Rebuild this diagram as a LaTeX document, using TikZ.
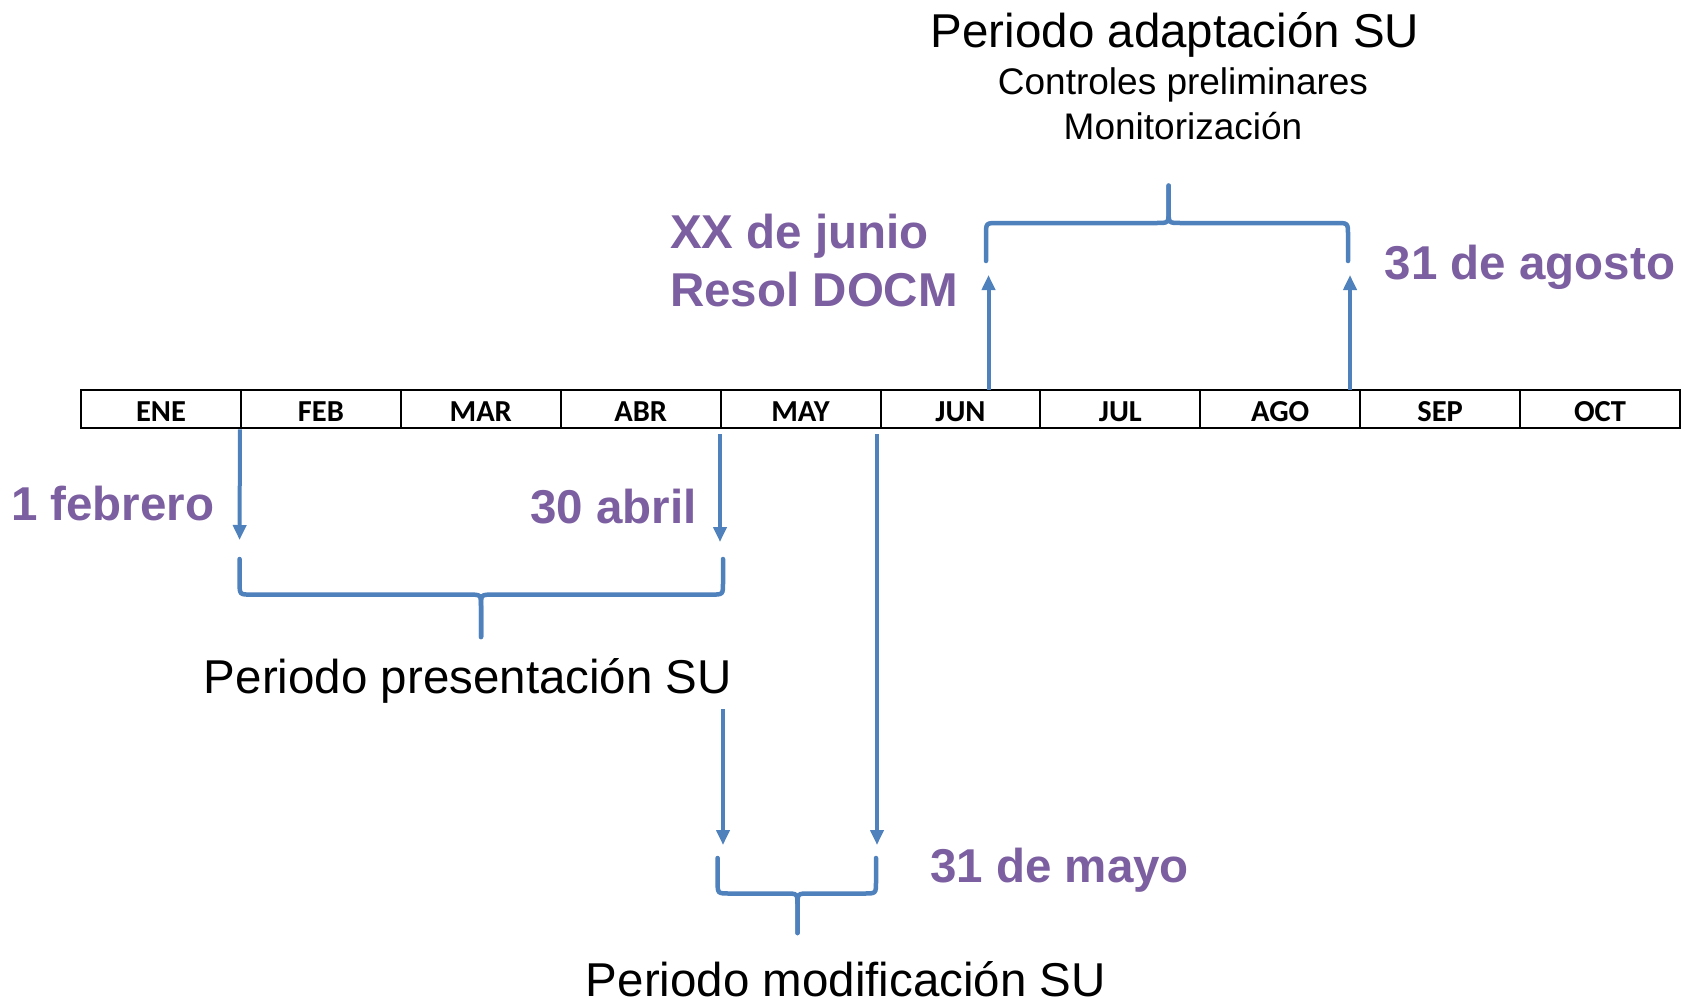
\documentclass[tikz,border=0pt]{standalone}
\usepackage{fontspec}
\setmainfont{Liberation Sans}
\newfontfamily\calib{Carlito}
\usetikzlibrary{arrows.meta}
\definecolor{lblue}{HTML}{4F81BD}
\definecolor{lpurple}{HTML}{7C5FA0}
\tikzset{
  month/.style={draw=black, line width=2pt, minimum width=159.9pt, minimum height=38.9pt,
    inner sep=0pt, text height=25pt, text depth=0pt,
    font=\calib\bfseries\fontsize{30.5}{32}\selectfont},
  arr/.style={draw=lblue, line width=4pt, -{Triangle[width=13pt,length=15pt]}},
  bracestyle/.style={draw=lblue, line width=4.5pt, line cap=round},
  datelbl/.style={inner sep=0pt, text=lpurple, font=\bfseries\fontsize{47.5}{52}\selectfont},
  biglbl/.style={inner sep=0pt, text=black, font=\fontsize{47.5}{52}\selectfont},
  midlbl/.style={inner sep=0pt, text=black, font=\fontsize{37}{40}\selectfont}
}
\newcommand\brc[7]{%
  \draw[bracestyle] (#1,#4) -- ({#1},{#5-#7*12}) .. controls (#1,#5) .. ({#1+12},#5) -- ({#3-12},#5) .. controls (#3,#5) .. ({#3},{#5+#7*12}) -- (#3,#6);
  \draw[bracestyle] (#2,#4) -- ({#2},{#5-#7*12}) .. controls (#2,#5) .. ({#2-12},#5) -- ({#3+12},#5) .. controls (#3,#5) .. ({#3},{#5+#7*12}) -- (#3,#6);}
\begin{document}
\begin{tikzpicture}[x=1pt,y=-1pt]
\useasboundingbox (0,0) rectangle (1692,1004);
\fill[white] (0,0) rectangle (1692,1004);
% month table
\foreach \m [count=\i] in {ENE,FEB,MAR,ABR,MAY,JUN,JUL,AGO,SEP,OCT}{
  \node[month] (m\i) at ({81+159.9*(\i-0.5)},409) {\m};
}
% coordinates
\coordinate (febTip) at (239.6,540);
\coordinate (abrTop) at (720,434);
\coordinate (abrTip) at (720,542);
\coordinate (mayTop) at (877,434);
\coordinate (mayTip) at (877,845);
\coordinate (presTop) at (723,709);
\coordinate (presTip) at (723,845);
\coordinate (junBase) at (988.5,389.6);
\coordinate (junTip) at (988.5,275);
\coordinate (agoBase) at (1350,389.6);
\coordinate (agoTip) at (1350,275);
% arrows
\draw[arr] (m2.south west) -- (febTip);
\draw[arr] (abrTop) -- (abrTip);
\draw[arr] (mayTop) -- (mayTip);
\draw[arr] (presTop) -- (presTip);
\draw[arr] (junBase) -- (junTip);
\draw[arr] (agoBase) -- (agoTip);
% braces
\brc{239.6}{723}{481}{559}{594.6}{637}{1}
\brc{717.6}{876}{797.5}{858}{893.5}{933}{1}
\brc{986}{1348}{1168.6}{261}{223}{185.6}{-1}
% labels
\node[datelbl, anchor=base west] (feb) at (10.8,520) {1 febrero};
\node[datelbl, anchor=base east] (abr) at (697,523) {30 abril};
\node[datelbl, anchor=base west] (may) at (930,882.6) {31 de mayo};
\node[datelbl, anchor=base west] (jun1) at (670,248) {XX de junio};
\node[datelbl, anchor=base west] (jun2) at (670,306.5) {Resol DOCM};
\node[datelbl, anchor=base west] (ago) at (1384.5,279.5) {31 de agosto};
\node[biglbl, anchor=base] (adapt) at (1175,47) {Periodo adaptación SU};
\node[midlbl, anchor=base] (ctrl) at (1183,94) {Controles preliminares};
\node[midlbl, anchor=base] (moni) at (1183,139) {Monitorización};
\node[biglbl, anchor=base] (pres) at (468,693) {Periodo presentación SU};
\node[biglbl, anchor=base] (modi) at (846,996) {Periodo modificación SU};
\end{tikzpicture}
\end{document}
